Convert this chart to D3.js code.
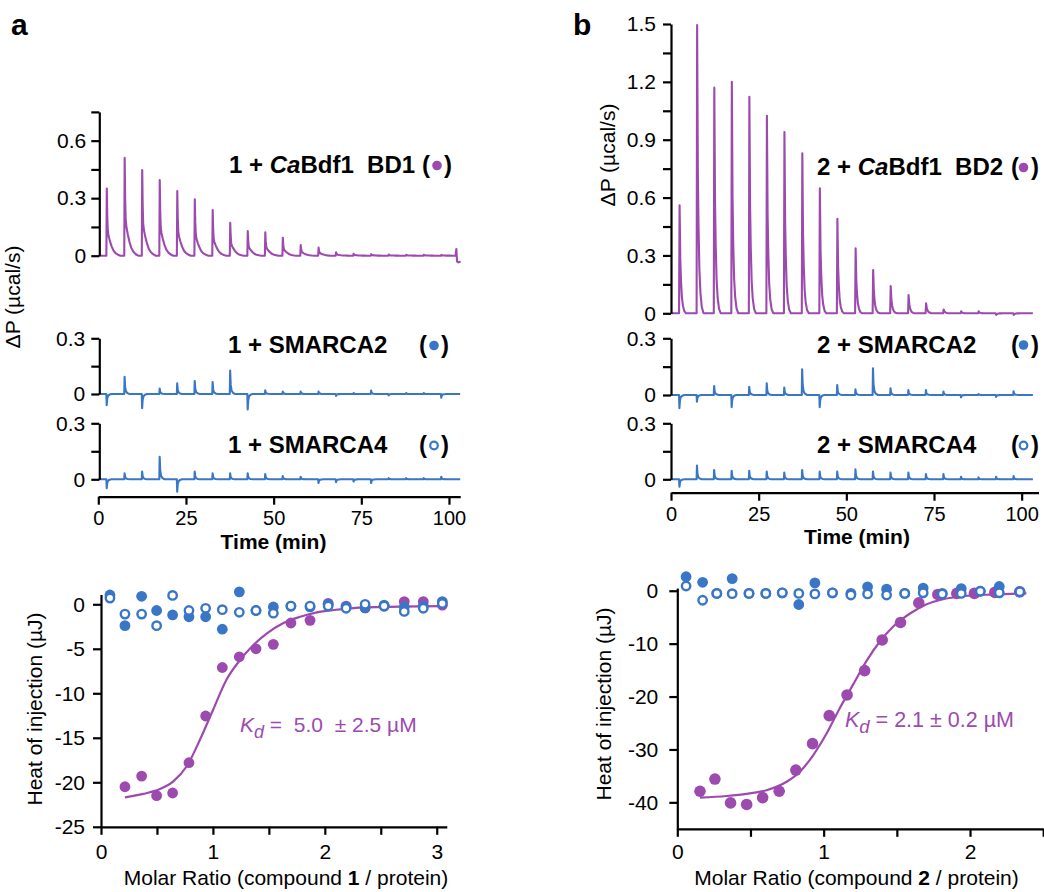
<!DOCTYPE html>
<html><head><meta charset="utf-8">
<script src="https://cdn.jsdelivr.net/npm/d3@7"></script>
<style>
html,body{margin:0;padding:0;background:#fff;}
svg{display:block;font-family:"Liberation Sans",Arial,Helvetica,sans-serif;}
</style></head><body>
<svg id="chart" width="1044" height="892"></svg>
<script>
// ================= DATA =================
// --- thermograms, panel a (compound 1) ---
const injTimesA = [2.3, 7.4, 12.4, 17.4, 22.4, 27.4, 32.5, 37.5, 42.5, 47.5, 52.5, 57.6, 62.7, 67.7, 72.7, 77.7, 82.7, 87.7, 92.7, 97.7];
const peaksA_BD1 = [0.35, 0.51, 0.447, 0.395, 0.337, 0.294, 0.238, 0.172, 0.129, 0.122, 0.094, 0.056, 0.042, 0.018, 0.01, 0.008, 0.006, 0.005, 0.005, 0.004];
const spikesA_S2 = [-0.06, 0.093, -0.077, 0.03, 0.057, 0.07, 0.065, 0.126, -0.083, 0.02, 0.013, 0.013, 0.013, -0.01, 0.005, 0.018, -0.008, 0.005, 0.005, -0.02];
const spikesA_S4 = [-0.048, 0.032, 0.041, 0.121, -0.066, 0.041, 0.032, 0.032, 0.032, 0.028, 0.018, 0.014, -0.02, -0.015, -0.012, -0.02, 0.006, 0.006, 0.006, 0.014];
const endA_t = [101.9, 102.1, 102.3, 102.7, 103.3];
const endA_v = [0, 0.035, -0.03, -0.035, -0.03];
// --- thermograms, panel b (compound 2) ---
const injTimesB = [2.3, 7.3, 12.2, 17.2, 22.2, 27.2, 32.2, 37.3, 42.3, 47.3, 52.5, 57.5, 62.5, 67.6, 72.6, 77.6, 82.6, 87.6, 92.6, 97.6];
const peaksB_BD2 = [0.56, 1.495, 1.17, 1.2, 1.123, 1.024, 0.94, 0.83, 0.648, 0.49, 0.337, 0.224, 0.141, 0.095, 0.052, 0.02, 0.01, 0.01, -0.008, -0.008];
const spikesB_S2 = [-0.07, -0.035, 0.048, -0.065, 0.044, 0.062, 0.039, 0.136, -0.065, 0.053, 0.03, 0.141, 0.035, 0.026, 0.026, 0.018, -0.012, 0.005, -0.01, 0.02];
const spikesB_S4 = [-0.04, 0.073, 0.05, 0.046, 0.046, 0.041, 0.036, 0.05, 0.041, 0.041, 0.054, 0.041, 0.036, 0.036, 0.028, 0.028, 0.014, 0.01, 0.014, 0.018];
const traceEndA = 103.2, traceEndB = 103.2;
// peak shapes (minutes after injection, fraction of peak)
const shapeA_dt = [0, 0.12, 0.25, 0.4, 0.6, 1.0, 1.5, 2.0, 2.6, 3.3, 4.0];
const shapeA_rel = [0, 1, 0.6, 0.38, 0.3, 0.22, 0.14, 0.08, 0.04, 0.015, 0];
const shapeB_dt = [0, 0.15, 0.35, 0.55, 0.8, 1.1, 1.5, 2.0];
const shapeB_rel = [0, 1, 0.5, 0.3, 0.15, 0.07, 0.02, 0];
const spike_dt = [0, 0.1, 0.25, 0.5, 0.9, 1.5];
const spike_rel = [0, 1, 0.4, 0.15, 0.05, 0];

// --- binding isotherms, panel a ---
const molarA_BD1 = [0.214, 0.363, 0.497, 0.64, 0.786, 0.935, 1.084, 1.236, 1.385, 1.54, 1.697, 1.868, 2.03, 2.19, 2.36, 2.53, 2.71, 2.88, 3.05];
const heatA_BD1 = [-20.5, -19.3, -21.5, -21.2, -17.8, -12.55, -7.1, -5.9, -5.0, -4.5, -2.1, -1.8, 0.1, -0.2, -0.4, -0.2, 0.3, 0.3, -0.1];
const molarA_S = [0.08, 0.214, 0.363, 0.497, 0.64, 0.786, 0.935, 1.084, 1.236, 1.385, 1.54, 1.697, 1.868, 2.03, 2.19, 2.36, 2.53, 2.71, 2.88, 3.05];
const heatA_S2 = [1.05, -2.4, 0.9, -0.7, -1.2, -1.4, -1.4, -2.8, 1.4, -0.7, -0.3, -0.2, -0.3, 0.0, -0.3, -0.4, -0.1, -0.3, -0.2, 0.3];
const heatA_S4 = [0.7, -1.1, -1.1, -2.4, 1.0, -0.7, -0.45, -0.6, -0.9, -0.7, -1.0, -0.2, -0.2, -0.2, -0.45, 0.0, -0.2, -0.8, -0.45, 0.1];
const fitMolarA = [0.214, 0.378, 0.497, 0.646, 0.766, 0.885, 1.0, 1.12, 1.24, 1.36, 1.48, 1.63, 1.78, 1.93, 2.08, 2.37, 2.67, 3.06];
const fitHeatA = [-21.7, -21.3, -20.9, -19.9, -18.2, -15.2, -11.9, -8.5, -6.3, -4.6, -3.3, -2.1, -1.4, -0.9, -0.64, -0.34, -0.27, -0.2];
// --- binding isotherms, panel b ---
const molarB_BD2 = [0.155, 0.257, 0.364, 0.474, 0.583, 0.696, 0.81, 0.924, 1.038, 1.16, 1.28, 1.40, 1.525, 1.65, 1.78, 1.91, 2.03, 2.17, 2.34];
const heatB_BD2 = [-37.9, -35.6, -40.1, -40.4, -39.1, -37.9, -33.9, -28.9, -23.6, -19.7, -15.1, -9.3, -6.0, -2.3, -0.7, -0.5, -0.5, -0.3, -0.2];
const molarB_S = [0.06, 0.173, 0.27, 0.375, 0.49, 0.605, 0.717, 0.83, 0.94, 1.06, 1.186, 1.30, 1.43, 1.554, 1.68, 1.81, 1.94, 2.07, 2.20, 2.34];
const heatB_S2 = [2.65, 1.6, -0.5, 2.3, -0.5, -0.5, -0.4, -2.6, 1.5, -0.4, -0.5, 0.75, 0.3, -0.5, 0.5, -0.5, 0.4, -0.1, 0.8, -0.2];
const heatB_S4 = [0.9, -1.8, -0.5, -0.55, -0.5, -0.5, -0.4, -0.5, -0.6, -0.4, -0.8, -0.6, -0.8, -0.5, -0.4, -0.6, -0.5, -0.1, -0.4, -0.2];
const fitMolarB = [0.155, 0.337, 0.474, 0.61, 0.747, 0.838, 0.928, 1.02, 1.11, 1.20, 1.29, 1.384, 1.474, 1.59, 1.70, 1.816, 1.93, 2.16, 2.385];
const fitHeatB = [-39.1, -38.8, -38.4, -37.7, -36.1, -34.2, -31.1, -27.0, -22.2, -17.8, -13.4, -9.6, -6.8, -4.3, -2.6, -1.6, -1.1, -0.7, -0.5];

// --- ticks & labels ---
const ticksTopA = [0, 0.15, 0.3, 0.45, 0.6, 0.75];
const labelsTopA = [0, 0.3, 0.6];
const ticksTopB = [0, 0.15, 0.3, 0.45, 0.6, 0.75, 0.9, 1.05, 1.2, 1.35, 1.5];
const labelsTopB = [0, 0.3, 0.6, 0.9, 1.2, 1.5];
const ticksMid = [0, 0.15, 0.3];
const labelsMid = [0, 0.3];
const timeTicks = [0, 25, 50, 75, 100];
const heatTicksA = [0, -5, -10, -15, -20, -25];
const heatTicksB = [0, -10, -20, -30, -40];
const molarTicksA = [0, 0.5, 1, 1.5, 2, 2.5, 3];
const molarLabelsA = [0, 1, 2, 3];
const molarTicksB = [0, 0.5, 1, 1.5, 2, 2.5];
const molarLabelsB = [0, 1, 2];

// ================= DRAWING =================
const FONT = '"Liberation Sans", Arial, Helvetica, sans-serif';
const PURPLE = '#9c4aae', BLUE = '#3a76c6';
const svg = d3.select('#chart');

const fmtTick = d => (Math.abs(d) < 1e-9 ? '0' : String(+d.toFixed(2)));
const has = (arr, d) => arr.some(v => Math.abs(v - d) < 1e-9);

function styleAxis(g, fs) {
  g.attr('font-family', FONT).attr('font-size', fs);
  g.selectAll('path.domain, .tick line').attr('stroke', '#000').attr('stroke-width', 2.2);
  g.selectAll('text').attr('fill', '#000');
}
function yAxis(scale, x, ticks, labels, pad, fs) {
  const ax = d3.axisLeft(scale).tickValues(ticks).tickSize(8).tickSizeOuter(0).tickPadding(pad)
    .tickFormat(d => has(labels, d) ? fmtTick(d) : '');
  const g = svg.append('g').attr('transform', `translate(${x},0)`).call(ax);
  styleAxis(g, fs);
}
function xAxis(scale, y, ticks, labels, pad, fs) {
  const ax = d3.axisBottom(scale).tickValues(ticks).tickSize(8).tickSizeOuter(0).tickPadding(pad)
    .tickFormat(d => has(labels, d) ? fmtTick(d) : '');
  const g = svg.append('g').attr('transform', `translate(0,${y})`).call(ax);
  styleAxis(g, fs);
}
function buildTrace(times, amps, dts, rels, tail) {
  const pts = [[0, 0]];
  times.forEach((t, i) => dts.forEach((d, j) => pts.push([t + d, amps[i] * rels[j]])));
  tail.forEach(p => pts.push(p));
  return pts;
}
function drawTrace(pts, xs, ys, color) {
  svg.append('path').datum(pts)
    .attr('d', d3.line().x(d => xs(d[0])).y(d => ys(d[1])))
    .attr('fill', 'none').attr('stroke', color).attr('stroke-width', 2.1).attr('stroke-linejoin', 'round');
}
function speciesLabel(parts, x, y, parenX, circOff, closeOff, filled, color) {
  const t = svg.append('text').attr('x', x).attr('y', y).attr('font-family', FONT)
    .attr('font-weight', 'bold').attr('font-size', 24).attr('fill', '#000').attr('xml:space', 'preserve');
  parts.forEach(p => t.append('tspan').attr('font-style', p.it ? 'italic' : 'normal').text(p.s));
  svg.append('text').attr('x', parenX).attr('y', y).attr('font-family', FONT).attr('font-weight', 'bold')
    .attr('font-size', 24).text('(');
  svg.append('text').attr('x', parenX + closeOff).attr('y', y).attr('font-family', FONT).attr('font-weight', 'bold')
    .attr('font-size', 24).text(')');
  svg.append('circle').attr('cx', parenX + circOff).attr('cy', y - 7.5).attr('r', filled ? 4.8 : 3.8)
    .attr('fill', filled ? color : '#fff').attr('stroke', color).attr('stroke-width', filled ? 0 : 2.2);
}
function rotLabel(x, y, parts) {
  const t = svg.append('text').attr('transform', `translate(${x},${y}) rotate(-90)`)
    .attr('text-anchor', 'middle').attr('font-family', FONT).attr('font-size', 21).attr('fill', '#000');
  parts.forEach(p => t.append('tspan').text(p));
}

// ---------- Panel a thermograms ----------
const xTA = d3.scaleLinear([0, 103.2], [98.3, 460.2]);
const yTopA = d3.scaleLinear([0, 0.75], [255.7, 111.9]);
const yS2A = d3.scaleLinear([0, 0.3], [394, 338.3]);
const yS4A = d3.scaleLinear([0, 0.3], [479.3, 423.3]);
drawTrace(buildTrace(injTimesA, peaksA_BD1, shapeA_dt, shapeA_rel, endA_t.map((t, i) => [t, endA_v[i]])), xTA, yTopA, PURPLE);
drawTrace(buildTrace(injTimesA, spikesA_S2, spike_dt, spike_rel, [[traceEndA, 0]]), xTA, yS2A, BLUE);
drawTrace(buildTrace(injTimesA, spikesA_S4, spike_dt, spike_rel, [[traceEndA, 0]]), xTA, yS4A, BLUE);
yAxis(yTopA, 99.3, ticksTopA, labelsTopA, 5, 21);
yAxis(yS2A, 99.3, ticksMid, labelsMid, 6, 21);
yAxis(yS4A, 99.3, ticksMid, labelsMid, 6, 21);
xAxis(xTA, 496.7, timeTicks, timeTicks, 6, 20);

// ---------- Panel b thermograms ----------
const xTB = d3.scaleLinear([0, 104.8], [671, 1038.5]);
const yTopB = d3.scaleLinear([0, 1.5], [313.3, 24]);
const yS2B = d3.scaleLinear([0, 0.3], [395, 338.3]);
const yS4B = d3.scaleLinear([0, 0.3], [479.3, 423.3]);
drawTrace(buildTrace(injTimesB, peaksB_BD2, shapeB_dt, shapeB_rel, [[traceEndB, 0]]), xTB, yTopB, PURPLE);
drawTrace(buildTrace(injTimesB, spikesB_S2, spike_dt, spike_rel, [[traceEndB, 0]]), xTB, yS2B, BLUE);
drawTrace(buildTrace(injTimesB, spikesB_S4, spike_dt, spike_rel, [[traceEndB, 0]]), xTB, yS4B, BLUE);
yAxis(yTopB, 671, ticksTopB, labelsTopB, 7, 21);
yAxis(yS2B, 671, ticksMid, labelsMid, 7, 21);
yAxis(yS4B, 671, ticksMid, labelsMid, 7, 21);
xAxis(xTB, 492.7, timeTicks, timeTicks, 6, 20);

// ---------- Panel a isotherm ----------
const xMA = d3.scaleLinear([0, 3.09], [101, 446.8]);
const yHA = d3.scaleLinear([1.1, -25], [594.5, 826.8]);
function scatter(xs, ys, mx, hy, filled, color, r) {
  svg.append('g').selectAll('circle').data(mx.map((m, i) => [m, hy[i]])).join('circle')
    .attr('cx', d => xs(d[0])).attr('cy', d => ys(d[1])).attr('r', r)
    .attr('fill', filled ? color : '#fff').attr('stroke', color).attr('stroke-width', filled ? 0 : 2.4);
}
function fitLine(xs, ys, mx, hy) {
  svg.append('path').datum(mx.map((m, i) => [m, hy[i]]))
    .attr('d', d3.line().curve(d3.curveMonotoneX).x(d => xs(d[0])).y(d => ys(d[1])))
    .attr('fill', 'none').attr('stroke', PURPLE).attr('stroke-width', 2.2);
}
scatter(xMA, yHA, molarA_BD1, heatA_BD1, true, PURPLE, 5.4);
fitLine(xMA, yHA, fitMolarA, fitHeatA);
scatter(xMA, yHA, molarA_S, heatA_S2, true, BLUE, 5.4);
scatter(xMA, yHA, molarA_S, heatA_S4, false, BLUE, 4.2);
yAxis(yHA, 101, heatTicksA, heatTicksA, 8, 21);
xAxis(xMA, 826.8, molarTicksA, molarLabelsA, 9, 21);

// ---------- Panel b isotherm ----------
const xMB = d3.scaleLinear([0, 2.5], [677.3, 1043.2]);
const yHB = d3.scaleLinear([0.5, -45], [588.1, 828.8]);
scatter(xMB, yHB, molarB_BD2, heatB_BD2, true, PURPLE, 5.8);
fitLine(xMB, yHB, fitMolarB, fitHeatB);
scatter(xMB, yHB, molarB_S, heatB_S2, true, BLUE, 5.4);
scatter(xMB, yHB, molarB_S, heatB_S4, false, BLUE, 4.2);
yAxis(yHB, 677.3, heatTicksB, heatTicksB, 11, 21);
xAxis(xMB, 828.8, molarTicksB, molarLabelsB, 7, 21);

// ---------- Text ----------
svg.append('text').attr('x', 11).attr('y', 35).attr('font-family', FONT).attr('font-weight', 'bold').attr('font-size', 30).text('a');
svg.append('text').attr('x', 573).attr('y', 35).attr('font-family', FONT).attr('font-weight', 'bold').attr('font-size', 30).text('b');

speciesLabel([{s: '1 + '}, {s: 'Ca', it: true}, {s: 'Bdf1  BD1'}], 229, 173, 422, 15, 22, true, PURPLE);
speciesLabel([{s: '1 + SMARCA2'}], 228, 353, 419, 15, 22, true, BLUE);
speciesLabel([{s: '1 + SMARCA4'}], 228, 453, 419, 15, 22, false, BLUE);
speciesLabel([{s: '2 + '}, {s: 'Ca', it: true}, {s: 'Bdf1  BD2'}], 817, 175, 1011, 12.5, 20, true, PURPLE);
speciesLabel([{s: '2 + SMARCA2'}], 817, 352.5, 1011, 12.5, 20, true, BLUE);
speciesLabel([{s: '2 + SMARCA4'}], 817, 453, 1011, 12.5, 20, false, BLUE);

rotLabel(20, 297, ['ΔP (µcal/s)']);
rotLabel(615, 155, ['ΔP (µcal/s)']);
rotLabel(42, 709, ['Heat of injection (µJ)']);
rotLabel(611, 704, ['Heat of injection (µJ)']);

function boldText(x, y, s) {
  svg.append('text').attr('x', x).attr('y', y).attr('text-anchor', 'middle').attr('font-family', FONT)
    .attr('font-weight', 'bold').attr('font-size', 21).text(s);
}
boldText(273.5, 549, 'Time (min)');
boldText(857, 544, 'Time (min)');

function molarLabel(cx, y, n) {
  const t = svg.append('text').attr('x', cx).attr('y', y).attr('text-anchor', 'middle')
    .attr('font-family', FONT).attr('font-size', 21).attr('fill', '#000');
  t.append('tspan').text('Molar Ratio (compound ');
  t.append('tspan').attr('font-weight', 'bold').text(n);
  t.append('tspan').text(' / protein)');
}
molarLabel(286, 885, '1');
molarLabel(856.5, 885, '2');

function kdLabel(x, y, rest, fs) {
  const t = svg.append('text').attr('x', x).attr('y', y).attr('font-family', FONT).attr('font-size', fs)
    .attr('fill', PURPLE).attr('xml:space', 'preserve');
  t.append('tspan').attr('font-style', 'italic').text('K');
  t.append('tspan').attr('font-style', 'italic').attr('font-size', fs - 3).attr('dy', 6).text('d');
  t.append('tspan').attr('dy', -6).text(rest);
}
kdLabel(240, 731.7, ' =  5.0  ± 2.5 µM', 21);
kdLabel(845, 726.7, ' = 2.1 ± 0.2 µM', 21.5);
</script>
</body></html>
